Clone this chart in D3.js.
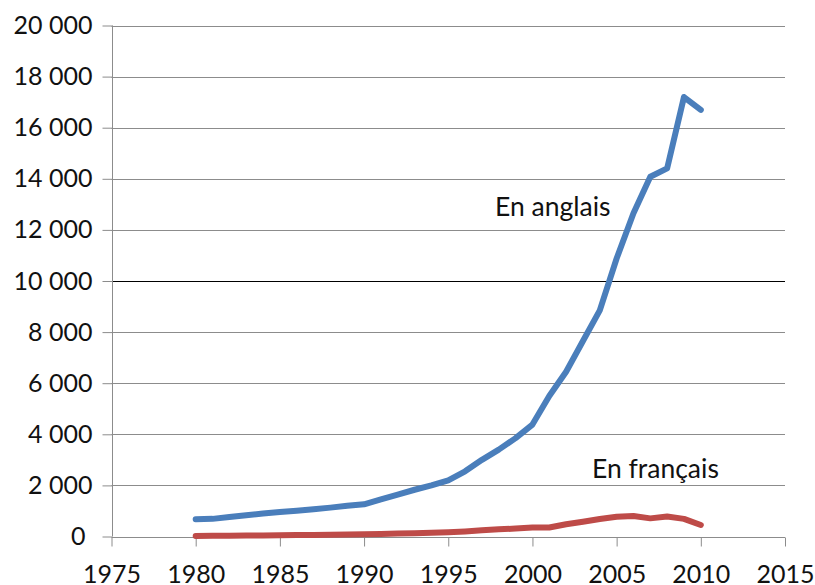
<!DOCTYPE html>
<html>
<head>
<meta charset="utf-8">
<script src="https://cdn.jsdelivr.net/npm/d3@7"></script>
<style>
  html, body { margin: 0; padding: 0; background: #fff; }
  svg { display: block; font-family: Lato, "Open Sans", sans-serif; }
</style>
</head>
<body>
<svg id="chart" width="815" height="585"></svg>
<script>
// Yearly counts, 1980–2010
const years = [1980,1981,1982,1983,1984,1985,1986,1987,1988,1989,
               1990,1991,1992,1993,1994,1995,1996,1997,1998,1999,
               2000,2001,2002,2003,2004,2005,2006,2007,2008,2009,2010];
const anglais = [680,690,760,830,900,960,1010,1070,1130,1200,
                 1260,1450,1640,1830,2000,2200,2550,3000,3400,3850,
                 4380,5500,6450,7650,8850,10880,12650,14080,14410,17200,16700];
const francais = [20,25,30,35,40,50,55,60,70,80,
                  90,100,115,130,150,170,200,240,280,310,
                  350,350,480,580,685,770,800,710,780,690,450];
const xTicks = [1975,1980,1985,1990,1995,2000,2005,2010,2015];
const yTicks = [0,2000,4000,6000,8000,10000,12000,14000,16000,18000,20000];
const seriesLabels = ["En anglais", "En français"];

const svg = d3.select("#chart");
const x = d3.scaleLinear().domain([1975, 2015]).range([111.5, 785]);
const y = d3.scaleLinear().domain([0, 20000]).range([536.5, 25.5]);

// French thousands separator: "20 000"
const fmt = v => d3.format(",")(v).replace(/,/g, " ");

// Horizontal gridlines
svg.append("g").selectAll("line").data(yTicks.filter(d => d > 0)).join("line")
  .attr("x1", x(1975)).attr("x2", x(2015))
  .attr("y1", d => Math.round(y(d)) + 0.5).attr("y2", d => Math.round(y(d)) + 0.5)
  .attr("stroke", d => d === 10000 ? "#000" : "#8c8c8c")
  .attr("stroke-width", 1);

// Y axis
const yAxis = svg.append("g")
  .attr("transform", `translate(${Math.round(x(1975)) + 0.5},0)`)
  .call(d3.axisLeft(y).tickValues(yTicks).tickSize(10).tickPadding(10).tickFormat(fmt));
yAxis.select(".domain").attr("stroke", "#8c8c8c").attr("d", `M0,${y(20000)}V${y(0)}`);
yAxis.selectAll(".tick line").attr("stroke", "#8c8c8c");
yAxis.selectAll(".tick text")
  .attr("font-size", 25).attr("fill", "#111").attr("font-family", "Lato, sans-serif")
  .attr("dx", d => d === 0 ? -7 : 0);

// X axis
const xAxis = svg.append("g")
  .attr("transform", `translate(0,${Math.round(y(0)) + 0.5})`)
  .call(d3.axisBottom(x).tickValues(xTicks).tickSize(9).tickPadding(19).tickFormat(d3.format("d")));
xAxis.select(".domain").attr("stroke", "#8c8c8c").attr("d", `M${x(1975)},0H${x(2015)}`);
xAxis.selectAll(".tick line").attr("stroke", "#8c8c8c");
xAxis.selectAll(".tick text")
  .attr("font-size", 25).attr("fill", "#111").attr("font-family", "Lato, sans-serif");

// Series lines
const line = d3.line().x((d, i) => x(years[i])).y(d => y(d));
svg.append("path").datum(anglais)
  .attr("d", line).attr("fill", "none")
  .attr("stroke", "#4a7ebb").attr("stroke-width", 6)
  .attr("stroke-linejoin", "round").attr("stroke-linecap", "round");
svg.append("path").datum(francais)
  .attr("d", line).attr("fill", "none")
  .attr("stroke", "#be4b48").attr("stroke-width", 6)
  .attr("stroke-linejoin", "round").attr("stroke-linecap", "round");

// Series labels
svg.append("text").attr("x", 495).attr("y", 216)
  .attr("font-size", 26.5).attr("fill", "#111").text(seriesLabels[0]);
svg.append("text").attr("x", 592).attr("y", 478)
  .attr("font-size", 26.5).attr("fill", "#111").text(seriesLabels[1]);
</script>
</body>
</html>
